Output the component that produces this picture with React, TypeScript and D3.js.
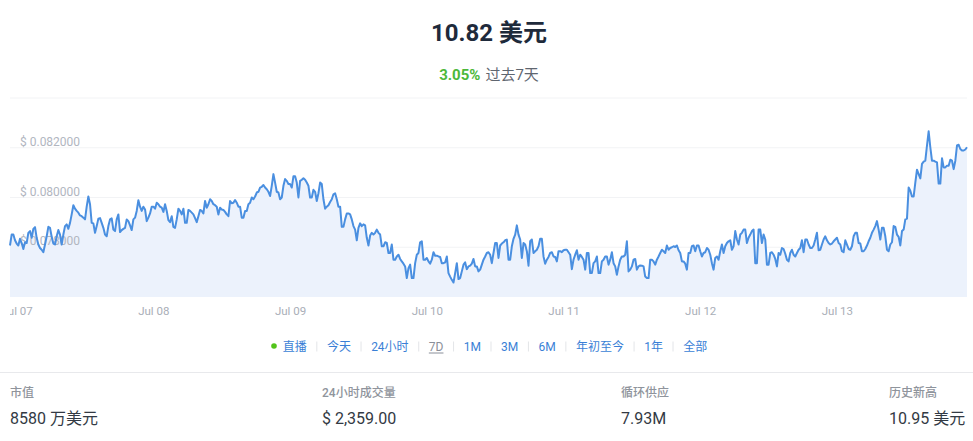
import React, { useEffect, useRef } from "react";
import * as d3 from "d3";

// ---- data (price in USD) ----
const pricesA = [
  0.07807, 0.07851, 0.07851, 0.07828, 0.07815, 0.07807, 0.07834, 0.07817, 0.07793, 0.0782,
  0.07817, 0.07858, 0.07865, 0.07838, 0.07874, 0.07881, 0.07838, 0.07811, 0.07797, 0.0779,
  0.0778, 0.07811, 0.07844, 0.07882, 0.07878, 0.07842, 0.07815, 0.07811, 0.07844, 0.07869,
  0.07851, 0.07811, 0.07851, 0.07885, 0.07892, 0.07874, 0.07898, 0.07932, 0.07969, 0.07955,
  0.07946, 0.07939, 0.07928, 0.07925, 0.07919, 0.07912, 0.07963, 0.08004, 0.07973, 0.07898,
  0.07896, 0.07858, 0.07885, 0.07915, 0.07917, 0.07898, 0.07878, 0.07851, 0.07844, 0.07885,
  0.07912, 0.07916, 0.07871, 0.07865, 0.07912, 0.07932, 0.07861, 0.07869, 0.07874, 0.07878,
  0.07912, 0.07905, 0.07888, 0.07869, 0.07912, 0.07919, 0.07946, 0.07989, 0.07963, 0.07946,
  0.07963, 0.07952, 0.07905, 0.07919, 0.07936, 0.07963, 0.07963, 0.07955, 0.07979, 0.07973,
  0.07963, 0.07959, 0.07942, 0.07973, 0.07946, 0.07909, 0.07901, 0.07925, 0.07882, 0.07878,
  0.07912, 0.07955, 0.07946, 0.07932, 0.07955, 0.07898, 0.07898, 0.0795, 0.07946, 0.07939,
  0.07932, 0.07917, 0.07901, 0.07925, 0.0795, 0.07946,
];
const pricesB = [
  0.07936, 0.07986, 0.07959, 0.07973, 0.07993, 0.07986, 0.07973, 0.07969, 0.07963, 0.07932,
  0.07959, 0.07952, 0.0795, 0.07942, 0.07932, 0.07925, 0.07986, 0.07977, 0.07979, 0.0799,
  0.07979, 0.07963, 0.07963, 0.07919, 0.07919, 0.07946, 0.07946, 0.07973, 0.07979, 0.08,
  0.07993, 0.08004, 0.0802, 0.08023, 0.0804, 0.08043, 0.0805, 0.0804, 0.08033, 0.08023,
  0.08006, 0.08047, 0.08094, 0.0806, 0.08023, 0.0802, 0.07993, 0.08, 0.08047, 0.08074,
  0.08067, 0.08054, 0.08054, 0.0804, 0.08085, 0.08085, 0.0806, 0.08, 0.08067, 0.08071,
  0.08077, 0.08071, 0.0806, 0.08047, 0.08, 0.08, 0.08031, 0.08023, 0.07986, 0.08017,
  0.0806, 0.08054, 0.07993, 0.07955, 0.07963, 0.07969, 0.07982, 0.07993, 0.08013, 0.08017,
  0.07993, 0.07963, 0.07963, 0.07882, 0.07882, 0.07912, 0.07936, 0.07936, 0.07932, 0.07912,
  0.07885, 0.07871, 0.07828, 0.07878, 0.07896, 0.07885, 0.07892, 0.07888, 0.07838, 0.07807,
  0.07847, 0.07858, 0.07851, 0.07858, 0.07871, 0.07858, 0.07851, 0.07804, 0.07804, 0.0782,
  0.07817, 0.07777,
];
const pricesC = [
  0.07777, 0.07811, 0.0775, 0.0775, 0.07763, 0.0777, 0.07753, 0.07743, 0.07734, 0.07723,
  0.07676, 0.07716, 0.0773, 0.07676, 0.07676, 0.07736, 0.0777, 0.07777, 0.0782, 0.07824,
  0.0775, 0.0775, 0.07757, 0.07743, 0.07734, 0.0775, 0.0778, 0.07766, 0.07766, 0.07763,
  0.07761, 0.07736, 0.07736, 0.07739, 0.07763, 0.07696, 0.07682, 0.07669, 0.07658, 0.07696,
  0.07736, 0.07672, 0.07676, 0.07703, 0.0773, 0.07739, 0.07712, 0.07723, 0.07726, 0.07734,
  0.07753, 0.07723, 0.07723, 0.07703, 0.0771, 0.0773, 0.0775, 0.07763, 0.07777, 0.0778,
  0.0777, 0.07736, 0.07777, 0.07817, 0.07817, 0.07757, 0.07807, 0.07815, 0.0782, 0.07828,
  0.07831, 0.0775, 0.0775, 0.07804, 0.07834, 0.07851, 0.07888, 0.07851, 0.07831, 0.07757,
  0.07817, 0.07811, 0.07784, 0.07726, 0.07824, 0.07831, 0.07777, 0.07784, 0.0779, 0.07804,
  0.07834, 0.07834, 0.07763, 0.07734, 0.0775, 0.07761, 0.07777, 0.0778, 0.07763, 0.07761,
  0.07743, 0.07784, 0.07784, 0.0778, 0.07788, 0.0779, 0.0779, 0.0778, 0.0777, 0.07712,
  0.0775, 0.0777, 0.07788, 0.0775, 0.0777, 0.07761, 0.0775,
];
const pricesD = [
  0.0771, 0.07777, 0.07777, 0.07696, 0.07696, 0.07736, 0.07743, 0.07763, 0.07696, 0.07696,
  0.07743, 0.0775, 0.07763, 0.07763, 0.0773, 0.0775, 0.0778, 0.07736, 0.07723, 0.07689,
  0.07723, 0.0775, 0.07763, 0.07763, 0.0777, 0.07824, 0.07703, 0.0771, 0.07723, 0.0775,
  0.07753, 0.0771, 0.07723, 0.07727, 0.07726, 0.07723, 0.07682, 0.07676, 0.07676, 0.0775,
  0.0775, 0.07743, 0.0773, 0.0775, 0.07763, 0.07777, 0.0779, 0.07784, 0.07777, 0.07807,
  0.0779, 0.07797, 0.078, 0.07804, 0.07801, 0.07807, 0.07788, 0.07777, 0.07743, 0.07743,
  0.07734, 0.0771, 0.07777, 0.07777, 0.07804, 0.07807, 0.07784, 0.07807, 0.07807, 0.07784,
  0.07763, 0.07777, 0.0778, 0.07797, 0.0779, 0.0777, 0.07736, 0.0771, 0.07757, 0.07763,
  0.0775, 0.07784, 0.07811, 0.07777, 0.07804, 0.07817, 0.07824, 0.07828, 0.0779, 0.07804,
  0.07865, 0.07831, 0.07811, 0.07851, 0.07858, 0.07871, 0.07871, 0.07817, 0.07838, 0.07851,
  0.07865, 0.07871, 0.07736, 0.07736, 0.07871, 0.07871, 0.07817, 0.07851, 0.07831, 0.0773,
  0.0773, 0.07777, 0.0778, 0.0777, 0.07753, 0.07723,
];
const pricesE = [
  0.07777, 0.0777, 0.07797, 0.07793, 0.07774, 0.0775, 0.07743, 0.07777, 0.0779, 0.0777,
  0.07763, 0.07777, 0.0779, 0.07797, 0.07828, 0.0778, 0.07831, 0.07831, 0.07811, 0.07797,
  0.07797, 0.07807, 0.07831, 0.07858, 0.07788, 0.0779, 0.07811, 0.07831, 0.07844, 0.07828,
  0.07817, 0.07811, 0.07815, 0.07824, 0.07831, 0.07838, 0.07817, 0.07811, 0.07784, 0.0778,
  0.07828, 0.07811, 0.07793, 0.0779, 0.07804, 0.07844, 0.07858, 0.07858, 0.07817, 0.07815,
  0.07784, 0.07784, 0.07793, 0.07807, 0.07824, 0.07838, 0.07858, 0.07871, 0.07885, 0.07905,
  0.07871, 0.07831, 0.07878, 0.07878, 0.07844, 0.0779, 0.07784, 0.07811, 0.0782, 0.07885,
  0.07882, 0.07851, 0.07842, 0.07807, 0.07865, 0.07871, 0.07912, 0.07915, 0.0804, 0.08027,
  0.08004, 0.08004, 0.0806, 0.08112, 0.08094, 0.08077, 0.08135, 0.08144, 0.08148, 0.08209,
  0.08266, 0.08202, 0.08148, 0.08148, 0.08144, 0.08141, 0.08056, 0.08056, 0.08158, 0.08121,
  0.08121, 0.08128, 0.08128, 0.08152, 0.08148, 0.08114, 0.08148, 0.08209, 0.08212, 0.08195,
  0.08189, 0.08189, 0.08193, 0.08202,
];
const prices = [...pricesA, ...pricesB, ...pricesC, ...pricesD, ...pricesE];

const startTime = new Date(Date.UTC(2023, 6, 6, 22, 45));
const endTime = new Date(Date.UTC(2023, 6, 13, 22, 45));
const dayTicks = [7, 8, 9, 10, 11, 12, 13].map((d) => new Date(Date.UTC(2023, 6, d)));
const yLabelTicks = [0.078, 0.08, 0.082];
const yGridTicks = [0.078, 0.08, 0.082, 0.084];
const yDomain = [0.076, 0.084];

const headline = "10.82 美元";
const changePct = "3.05%";
const changePeriod = "过去7天";
const rangeButtons = ["直播", "今天", "24小时", "7D", "1M", "3M", "6M", "年初至今", "1年", "全部"];
const activeButton = "7D";
const statLabels = ["市值", "24小时成交量", "循环供应", "历史新高"];
const statValues = ["8580 万美元", "$ 2,359.00", "7.93M", "10.95 美元"];

const FONT = "Roboto, 'Noto Sans CJK SC', 'Noto Sans', sans-serif";
const W = 973;
const H = 441;

export default function App() {
  const btnRef = useRef<SVGGElement | null>(null);

  const x = d3.scaleUtc().domain([startTime, endTime]).range([10, 967]);
  const y = d3.scaleLinear().domain(yDomain).range([297, 98]);
  const step = (endTime.getTime() - startTime.getTime()) / (prices.length - 1);
  const series = prices.map((v, i) => ({ t: new Date(startTime.getTime() + i * step), v }));

  const line = d3
    .line<{ t: Date; v: number }>()
    .x((d) => x(d.t))
    .y((d) => y(d.v));
  const area = d3
    .area<{ t: Date; v: number }>()
    .x((d) => x(d.t))
    .y0(y(yDomain[0]))
    .y1((d) => y(d.v));
  const fmtDay = d3.utcFormat("%b %d");
  const fmtPrice = (v: number) => "$ " + v.toFixed(6);

  const statX = [10, 322, 621, 889];

  useEffect(() => {
    const g = d3.select(btnRef.current);
    if (!g.node()) return;
    g.selectAll("*").remove();
    const yBase = 350.5;
    g.append("circle").attr("cx", 274).attr("cy", 346).attr("r", 2.8).attr("fill", "#52c41a");
    let cx = 282.7;
    rangeButtons.forEach((label, i) => {
      const active = label === activeButton;
      const t = g
        .append("text")
        .attr("x", cx)
        .attr("y", yBase)
        .attr("font-size", 12)
        .attr("fill", active ? "#8a8f99" : "#3a7fd6")
        .text(label);
      const w = (t.node() as SVGTextElement).getComputedTextLength();
      if (active) {
        g.append("line")
          .attr("x1", cx)
          .attr("x2", cx + w)
          .attr("y1", yBase + 2.5)
          .attr("y2", yBase + 2.5)
          .attr("stroke", "#8a8f99")
          .attr("stroke-width", 1);
      }
      cx += w;
      if (i < rangeButtons.length - 1) {
        cx += 10.1;
        g.append("line")
          .attr("x1", cx)
          .attr("x2", cx)
          .attr("y1", yBase - 9)
          .attr("y2", yBase + 1)
          .attr("stroke", "#e3e5e8")
          .attr("stroke-width", 1);
        cx += 10.1;
      }
    });
  }, []);

  return (
    <svg
      width={W}
      height={H}
      style={{ position: "fixed", left: 0, top: 0, background: "#fff" }}
      fontFamily={FONT}
    >
      <defs>
        <clipPath id="xclip">
          <rect x={10} y={290} width={963} height={40} />
        </clipPath>
      </defs>

      {/* headline */}
      <text x={489} y={41} textAnchor="middle" fontSize={24} fontWeight={700} fill="#1e2a3b">
        {headline}
      </text>
      <text x={489} y={79.5} textAnchor="middle" fontSize={15}>
        <tspan fill="#4cb83a" fontWeight={700}>{changePct}</tspan>
        <tspan fill="#5f6670" dx={5}>{changePeriod}</tspan>
      </text>

      {/* grid */}
      {yGridTicks.map((v) => (
        <line key={v} x1={10} x2={967} y1={y(v)} y2={y(v)} stroke="#f2f3f5" strokeWidth={1} />
      ))}

      {/* area */}
      <path d={area(series) || ""} fill="#ecf2fc" />

      {/* y labels */}
      {yLabelTicks.map((v) => (
        <text key={v} x={20} y={y(v) - 2} fontSize={12} fill="#b1b6bf">
          {fmtPrice(v)}
        </text>
      ))}

      {/* line */}
      <path d={line(series) || ""} fill="none" stroke="#4a8fe0" strokeWidth={2} strokeLinejoin="round" />

      {/* x axis labels */}
      <g clipPath="url(#xclip)">
        {dayTicks.map((d) => (
          <text key={d.getTime()} x={x(d)} y={315} textAnchor="middle" fontSize={11.5} fill="#a9aeb7">
            {fmtDay(d)}
          </text>
        ))}
      </g>

      {/* range buttons */}
      <g ref={btnRef} />

      {/* separator */}
      <line x1={0} x2={W} y1={372.5} y2={372.5} stroke="#e8e9ec" strokeWidth={1} />

      {/* stats */}
      {statLabels.map((s, i) => (
        <text key={s} x={statX[i]} y={397} fontSize={12} fontWeight={500} fill="#8f949c">
          {s}
        </text>
      ))}
      {statValues.map((s, i) => (
        <text key={s} x={statX[i]} y={424} fontSize={16} fill="#333a44">
          {s}
        </text>
      ))}
    </svg>
  );
}
